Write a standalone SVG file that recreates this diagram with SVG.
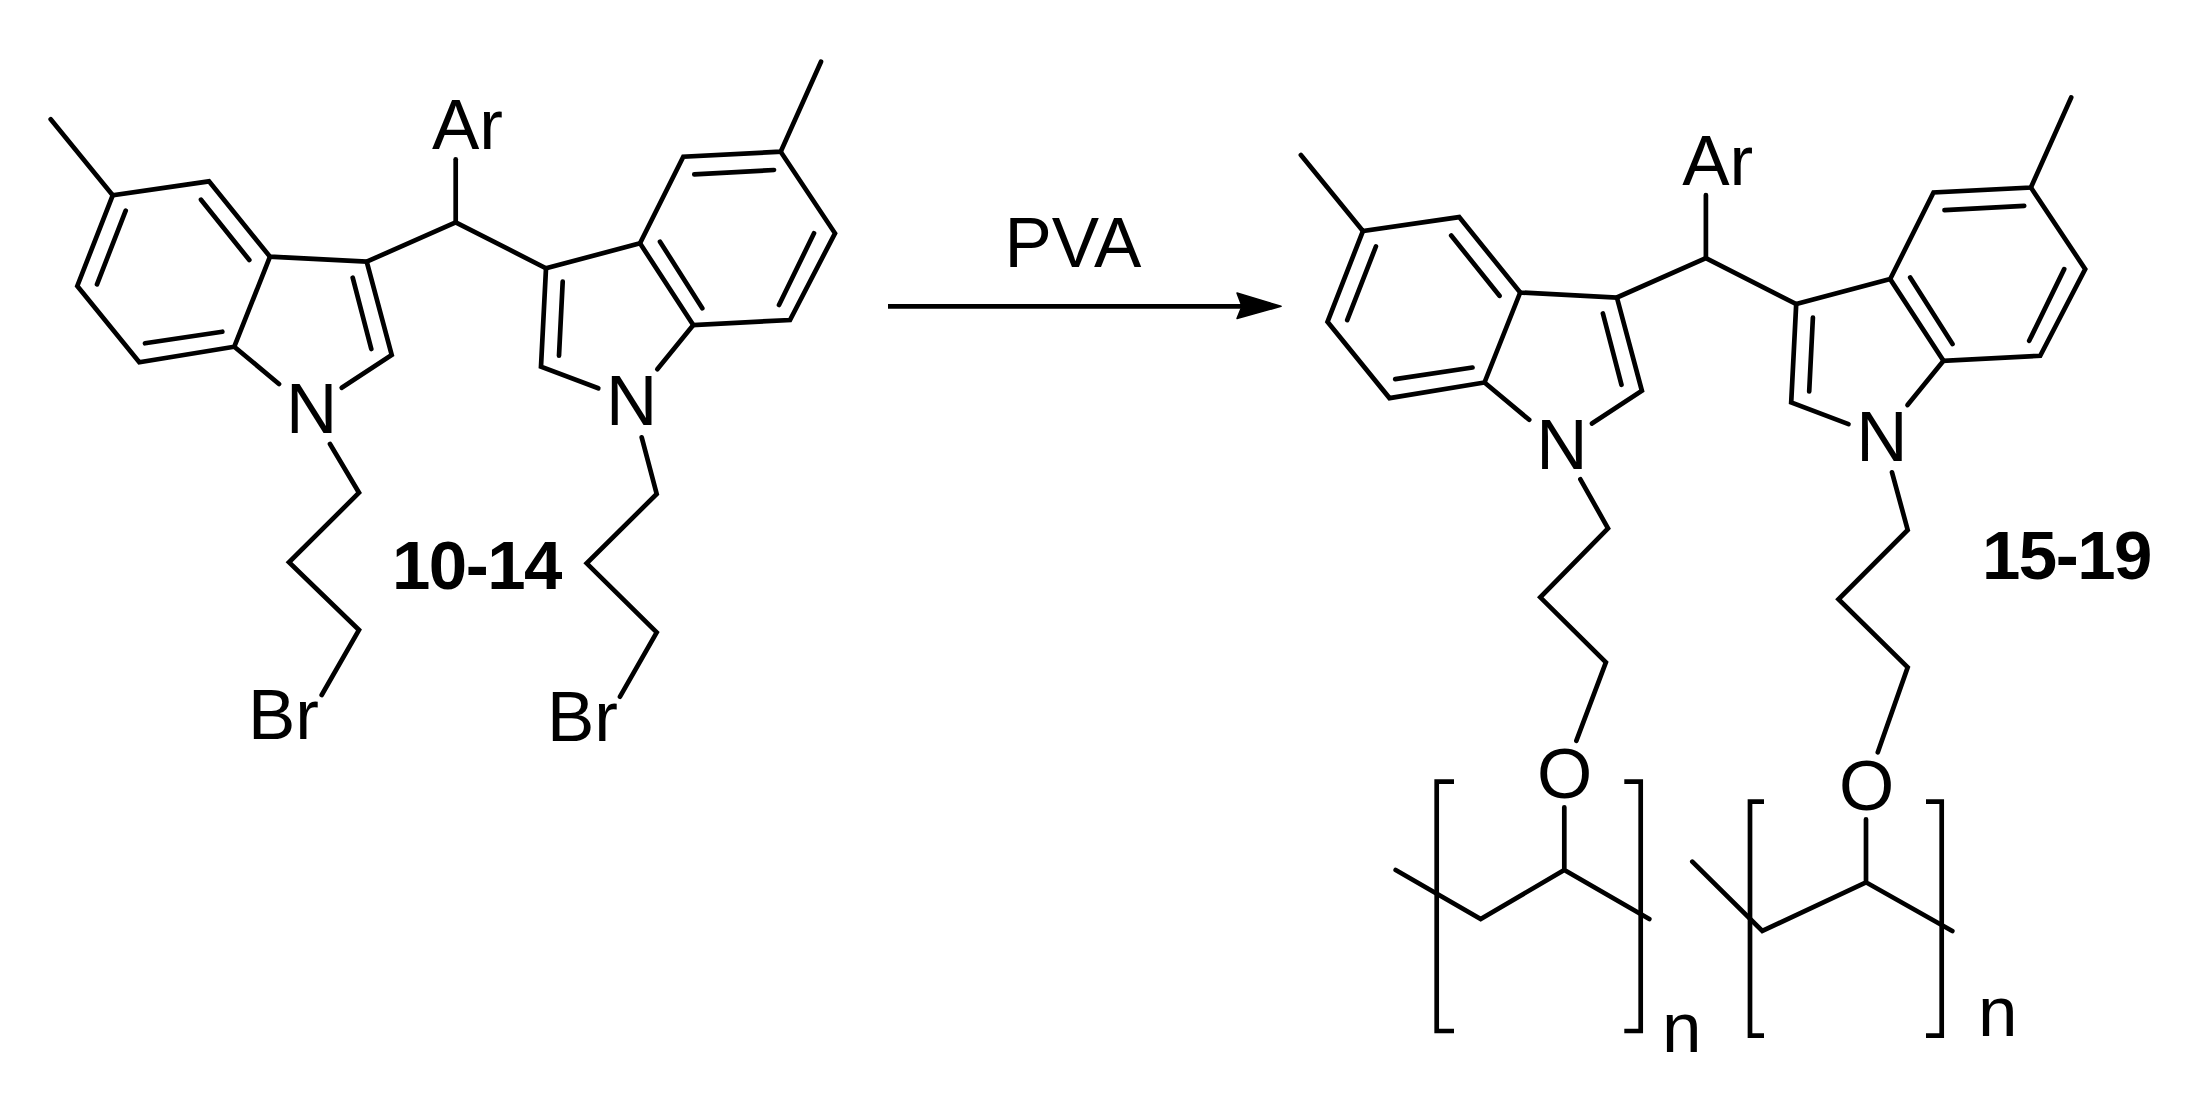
<svg xmlns="http://www.w3.org/2000/svg" xmlns:xlink="http://www.w3.org/1999/xlink" width="2192" height="1094" viewBox="0 0 2192 1094">
<style>
.b{fill:none;stroke:#000;stroke-width:4.7;stroke-linecap:round;stroke-linejoin:miter;stroke-miterlimit:6}
.k{fill:none;stroke:#000;stroke-width:4.7;stroke-linecap:butt;stroke-linejoin:miter}
.t{font-family:"Liberation Sans",Arial,sans-serif;font-size:71px;fill:#000}
.l{font-family:"Liberation Sans",Arial,sans-serif;font-size:69px;font-weight:700;fill:#000;letter-spacing:-1.5px}
</style>
<defs>
<g id="core">
<path class="b" d="M50.7 119.3L112.7 195.3L209 181.3L270 256.7L366.7 261.7L455.7 222.3L546 268.3L640 243.3L683.3 156.7L780.7 151.7L821 61.7"/>
<path class="b" d="M112.7 195.3L77.3 286L139.3 362.3L234.3 346.7L270 256.7"/>
<path class="b" d="M234.3 346.7L279 384"/>
<path class="b" d="M366.7 261.7L391.7 355L341.7 387.7"/>
<path class="b" d="M455.7 222.3V159.3"/>
<path class="b" d="M546 268.3L541 366.7L598.3 388.3"/>
<path class="b" d="M640 243.3L693.3 325L790 320L835 233.3L780.7 151.7"/>
<path class="b" d="M693.3 325L657.3 369.3"/>
<path class="b" d="M201 199.7L249.3 260M125.7 210.7L97 284.3M145 343.3L222.3 331.7M352.7 277.7L371.3 349"/>
<path class="b" d="M562.7 281.7L559 355.7M660 241.7L702.3 308.3M694.3 174.3L774 170M814 233.3L779 305"/>
<text class="t" x="432" y="149">Ar</text>
<text class="t" x="286" y="433">N</text>
<text class="t" x="606" y="425">N</text>
</g>
</defs>
<g id="reactant-10-14">
<use xlink:href="#core" href="#core"/>
<path class="b" d="M330 444L359 492.7L289 562.3L359 630L321.7 695"/>
<path class="b" d="M641.7 437.3L656.7 494L586.7 563.3L656.7 632.3L620 696.7"/>
<text class="t" x="248" y="739">Br</text>
<text class="t" x="547" y="741">Br</text>
<text class="l" x="392" y="589">10-14</text>
</g>
<g id="connectors">
<path d="M888 306.3H1245" fill="none" stroke="#000" stroke-width="4.8"/>
<polygon points="1281,306.3 1237,293 1242,306.3 1237,318.5" fill="#000" stroke="#000" stroke-width="1.5" stroke-linejoin="round"/>
</g>
<g id="reagent-pva">
<text class="t" x="1004.5" y="266.7">PVA</text>
</g>
<g id="product-15-19">
<use xlink:href="#core" href="#core" transform="translate(1250.2 35.8)"/>
<path class="b" d="M1580.4 479.3L1608 528.3L1540.3 597.3L1605.9 662.3L1576.4 740.7"/>
<path class="b" d="M1892 472.3L1907.7 530L1838.5 599.3L1907.7 667.3L1877.8 752.3"/>
<text class="t" x="1537" y="798.3">O</text>
<text class="t" x="1839" y="810">O</text>
<path class="b" d="M1564.3 807.3V870M1395.7 870L1480.7 919L1564.3 870L1649.3 919"/>
<path class="b" d="M1866 819.3V882.3M1692.3 861.7L1762.3 931L1866 882.3L1952.3 931"/>
<path class="k" d="M1454 781.7H1436.7V1031H1454M1624.3 781.7H1640.7V1031H1624.3"/>
<path class="k" d="M1764 801.7H1750V1035.7H1764M1926 801.7H1941.7V1035.7H1926"/>
<text class="t" x="1662" y="1051.7">n</text>
<text class="t" x="1978" y="1035.7">n</text>
<text class="l" x="1982" y="579">15-19</text>
</g>
</svg>
